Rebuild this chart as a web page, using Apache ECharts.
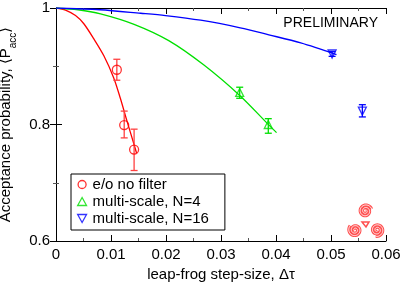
<!DOCTYPE html>
<html><head><meta charset="utf-8">
<script src="https://cdn.jsdelivr.net/npm/echarts@6/dist/echarts.min.js"></script>
<style>html,body{margin:0;padding:0;background:#fff}#c{width:403px;height:284px}</style>
</head><body><div id="c"></div>
<script>
// ---- data ----
const redCurve = [[0,1],[0.00173,0.9965],[0.00355,0.987],[0.00506,0.973],[0.00688,0.947],[0.0087,0.918],[0.0105,0.880],[0.0117,0.845],[0.0129,0.806],[0.01415,0.767],[0.01464,0.751]];
const greenCurve = [[0,1],[0.004,0.997],[0.0081,0.990],[0.0142,0.972],[0.0205,0.944],[0.0269,0.902],[0.0335,0.849],[0.0384,0.802],[0.0401,0.786]];
const blueCurve = [[0,1],[0.008,0.997],[0.0154,0.991],[0.0199,0.987],[0.0263,0.979],[0.0335,0.966],[0.0387,0.954],[0.0445,0.940],[0.051,0.920]];

const redX = [0.01106, 0.0124, 0.0142];
const redY = [0.894, 0.799, 0.757];
const redLo = [0.876, 0.777, 0.721];
const redHi = [0.912, 0.823, 0.792];

const greenX = [0.0334, 0.0386];
const greenY = [0.855, 0.800];
const greenLo = [0.845, 0.785];
const greenHi = [0.864, 0.810];

const blueX = [0.0502, 0.0557];
const blueY = [0.921, 0.823];
const blueLo = [0.917, 0.813];
const blueHi = [0.925, 0.834];

const seriesNames = ['e/o no filter', 'multi-scale, N=4', 'multi-scale, N=16'];
const xLabels = ['0','0.01','0.02','0.03','0.04','0.05','0.06'];
const yLabels = {'0.6':'0.6','0.8':'0.8','1':'1'};

const RED = '#ff0000', GREEN = '#00e000', BLUE = '#0000ff';
const FONT = 'Liberation Sans, Arial, Helvetica, sans-serif';

function pts(xs, ys){ return xs.map((x,i)=>[x, ys[i]]); }
function errData(xs, lo, hi){ return xs.map((x,i)=>[x, lo[i], hi[i]]); }
function errSeries(data, color){
  return {
    type:'custom', data, silent:true, z:3,
    renderItem(params, api){
      const x = api.value(0);
      const p1 = api.coord([x, api.value(1)]);
      const p2 = api.coord([x, api.value(2)]);
      const w = 3.5;
      const st = {stroke: color, lineWidth: 1.3};
      return {type:'group', children:[
        {type:'line', shape:{x1:p1[0],y1:p1[1],x2:p2[0],y2:p2[1]}, style:st},
        {type:'line', shape:{x1:p1[0]-w,y1:p1[1],x2:p1[0]+w,y2:p1[1]}, style:st},
        {type:'line', shape:{x1:p2[0]-w,y1:p2[1],x2:p2[0]+w,y2:p2[1]}, style:st}
      ]};
    }
  };
}
function lineSeries(data, color){
  return {type:'line', data, showSymbol:false, smooth:0.3, silent:true,
    lineStyle:{color, width:1.3}, z:2};
}
const DOWN = 'path://M0,0 L10,0 L5,9 Z';
const UP = 'path://M5,0 L10,9 L0,9 Z';
function scatter(name, data, color, symbol, size){
  return {type:'scatter', name, data, symbol, symbolSize:size, z:4,
    itemStyle:{color:'rgba(255,255,255,0)', borderColor:color, borderWidth:1.3}};
}

// triskelion logo (decoration)
function spiral(cx, cy, rMax, turns, a0, dir){
  const p = []; const n = 80;
  for(let i=0;i<=n;i++){
    const t = i/n; const th = a0 + dir*t*turns*2*Math.PI; const r = 1 + (rMax-1)*t;
    p.push([cx + r*Math.cos(th), cy + r*Math.sin(th)]);
  }
  return p;
}
const logoEls = [];
[[365.5,211,-Math.PI/2],[355,230,Math.PI*5/6],[377,230,Math.PI/6]].forEach(c=>{
  const pts2 = spiral(c[0], c[1], 6.5, 2.2, c[2], 1);
  logoEls.push({type:'polyline', shape:{points:pts2}, style:{stroke:'#ff5050', lineWidth:3, fill:null}, z:10});
  logoEls.push({type:'polyline', shape:{points:pts2}, style:{stroke:'#ffe8e8', lineWidth:1, fill:null}, z:11});
});
logoEls.push({type:'polygon', shape:{points:[[362,222],[369,222],[366,227]]}, style:{stroke:'#ff5050', lineWidth:1.5, fill:null}, z:10});

const chart = echarts.init(document.getElementById('c'), null, {renderer:'canvas'});
const axisCommon = {
  axisLine:{show:true, lineStyle:{color:'#000', width:1}},
  axisTick:{show:true, inside:true, length:6, lineStyle:{color:'#000'}},
  minorTick:{show:true, splitNumber:2, length:3, lineStyle:{color:'#555'}},
  splitLine:{show:false}
};
chart.setOption({
  animation:false,
  textStyle:{fontFamily:FONT},
  grid:{left:56, right:17, top:8, bottom:43, containLabel:false, outerBoundsMode:'none'},
  xAxis:[
    Object.assign({type:'value', min:0, max:0.06, interval:0.01, position:'bottom',
      name:'leap-frog step-size, Δτ', nameLocation:'middle', nameGap:19,
      nameTextStyle:{fontSize:15, color:'#000', fontFamily:FONT, verticalAlign:'top'},
      axisLabel:{fontSize:15, color:'#000', margin:6, fontFamily:FONT,
        formatter:(v)=>xLabels[Math.round(v/0.01)] }}, axisCommon),
    Object.assign({type:'value', min:0, max:0.06, interval:0.01, position:'top',
      axisLabel:{show:false}}, axisCommon)
  ],
  yAxis:[
    Object.assign({type:'value', min:0.6, max:1, interval:0.2, position:'left',
      name:'{a|Acceptance probability, ⟨P}{s|acc}{a|⟩}', nameLocation:'middle', nameGap:36, nameRotate:90,
      nameTextStyle:{fontSize:15, color:'#000', fontFamily:FONT,
        rich:{a:{fontSize:15, fontFamily:FONT, color:'#000', lineHeight:17, verticalAlign:'top'},
              s:{fontSize:10, fontFamily:FONT, color:'#000', lineHeight:10, padding:[10,0,0,0], verticalAlign:'top'}}},
      axisLabel:{fontSize:15, color:'#000', margin:6, fontFamily:FONT,
        formatter:(v)=>yLabels[String(Math.round(v*10)/10)] || '' }}, axisCommon),
    Object.assign({type:'value', min:0.6, max:1, interval:0.2, position:'right',
      axisLabel:{show:false}}, axisCommon)
  ],
  legend:{
    orient:'vertical', left:71, top:174, data:seriesNames,
    backgroundColor:'#fff', borderColor:'#000', borderWidth:1, borderRadius:0,
    padding:[3,16,4,6], itemGap:2, itemWidth:9, itemHeight:8, itemStyle:{borderWidth:1.3},
    textStyle:{fontSize:15, color:'#000', fontFamily:FONT, padding:[0,0,0,1]},
    selectedMode:false
  },
  graphic:[
    {type:'text', right:25, top:16, style:{text:'PRELIMINARY', font:'14px '+FONT, fill:'#000'}, z:10},
    {type:'group', children:logoEls}
  ],
  series:[
    lineSeries(redCurve, RED),
    lineSeries(greenCurve, GREEN),
    lineSeries(blueCurve, BLUE),
    errSeries(errData(redX, redLo, redHi), '#ff4040'),
    errSeries(errData(greenX, greenLo, greenHi), GREEN),
    errSeries(errData(blueX, blueLo, blueHi), BLUE),
    scatter(seriesNames[0], pts(redX, redY), RED, 'circle', 9),
    scatter(seriesNames[1], pts(greenX, greenY), GREEN, UP, 8),
    scatter(seriesNames[2], pts(blueX, blueY), BLUE, DOWN, 8)
  ]
});
</script></body></html>
